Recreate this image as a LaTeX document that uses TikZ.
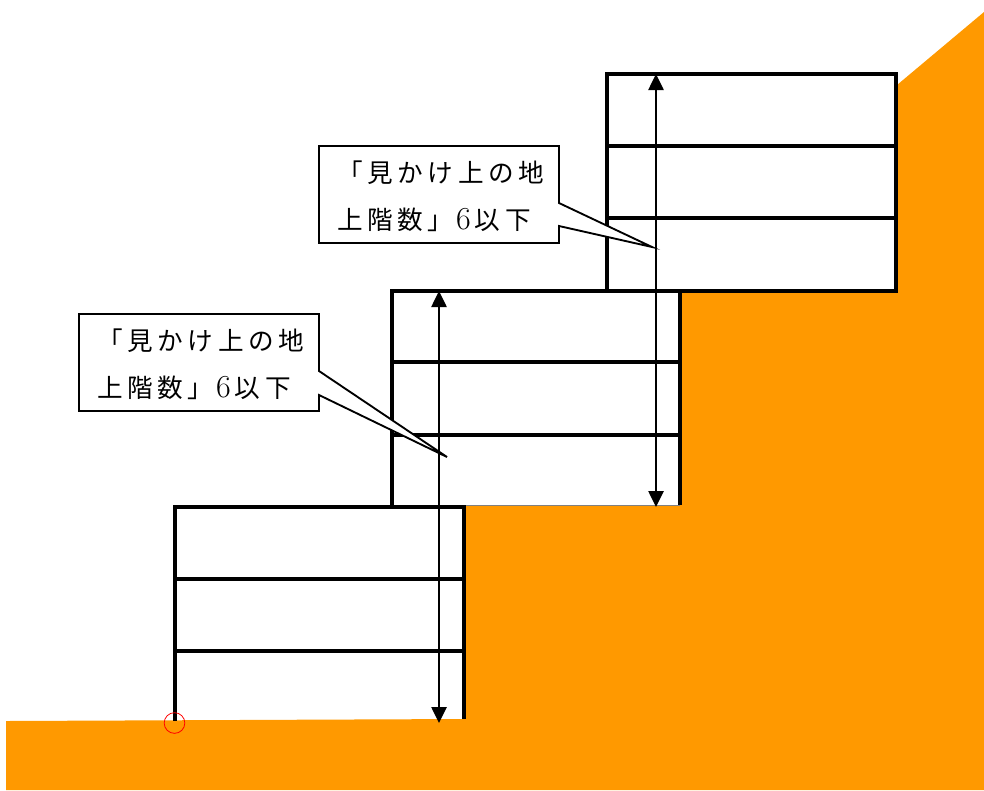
\documentclass[tikz,border=0pt]{standalone}
\usepackage{fontspec}
\usetikzlibrary{arrows.meta}
\newfontfamily\jpfont[LetterSpace=18]{Noto Sans CJK JP}
\newcommand{\bigsix}{{\rmfamily\fontsize{24pt}{24pt}\selectfont 6}}
\definecolor{ground}{HTML}{FF9900}
\tikzset{
  wall/.style={line width=3.3pt,line cap=rect},
  thinwall/.style={line width=0.6pt,draw=gray},
  span/.style={line width=1.1pt,{Triangle[length=12pt,width=11.5pt]}-{Triangle[length=12pt,width=11.5pt]},shorten <=0pt,shorten >=0pt},
  callout/.style={draw=black,fill=white,line width=1.4pt,line join=miter},
  label/.style={inner sep=0pt,anchor=base west,font=\jpfont\fontsize{19.2pt}{22pt}\selectfont},
}
\begin{document}
\begin{tikzpicture}[x=0.75pt,y=-0.75pt]
\useasboundingbox (0,0) rectangle (984,790);
\fill[ground] (6,721) -- (465,719) -- (465,505) -- (681,505) -- (681,291) -- (897,291) -- (897,85) -- (984,12) -- (984,790) -- (6,790) -- cycle;
% upper building
\draw[wall] (607,291) -- (607,74) -- (896,74) -- (896,291) -- (681,291);
\draw[wall] (607,146) -- (896,146);
\draw[wall] (607,218) -- (896,218);
% middle building
\draw[wall] (392,505) -- (392,291) -- (680,291) -- (680,503);
\draw[wall] (392,362) -- (680,362);
\draw[wall] (392,435) -- (680,435);
\draw[thinwall] (465,505) -- (680,505);
% lower building
\draw[wall] (175,719) -- (175,507) -- (464,507) -- (464,717);
\draw[wall] (175,579) -- (464,579);
\draw[wall] (175,651) -- (464,651);
% dimension arrows
\coordinate (upperTop) at (656,74);
\coordinate (upperBottom) at (656,507);
\coordinate (lowerTop) at (439,291);
\coordinate (lowerBottom) at (439,723);
\draw[span] (upperTop) -- (upperBottom);
\draw[span] (lowerTop) -- (lowerBottom);
% callouts
\draw[callout] (319,146) -- (559,146) -- (559,203) -- (652,247) -- (559,226) -- (559,243) -- (319,243) -- cycle;
\node[label] (upperLineA) at (337,182) {「見かけ上の地};
\node[label] (upperLineB) at (337,229) {上階数」\hspace{2pt}\bigsix\hspace{3pt}以下};
\draw[callout] (79,314) -- (319,314) -- (319,371) -- (447,457) -- (319,395) -- (319,411) -- (79,411) -- cycle;
\node[label] (lowerLineA) at (97,350) {「見かけ上の地};
\node[label] (lowerLineB) at (97,397) {上階数」\hspace{2pt}\bigsix\hspace{3pt}以下};
% red marker
\node[draw=red,circle,line width=0.6pt,minimum size=15.5pt,inner sep=0pt] (marker) at (174.5,723) {};
\end{tikzpicture}
\end{document}
